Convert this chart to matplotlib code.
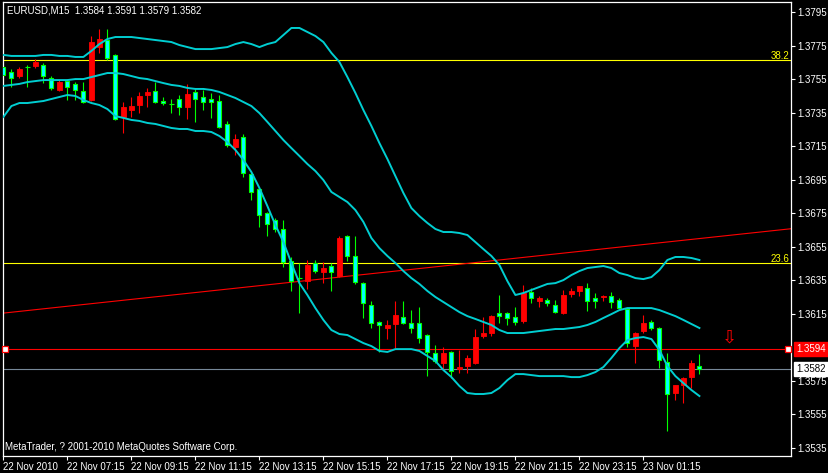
import matplotlib
matplotlib.use("Agg")
import matplotlib.pyplot as plt
import numpy as np
import pandas as pd

plt.rcParams['font.family'] = ['Liberation Sans', 'DejaVu Sans']
plt.rcParams['font.size'] = 7

symbol = "EURUSD,M15"
first_bar = "2010-11-22 05:15"

# OHLC of the 15 minute bars
opens = [1.37624, 1.37594, 1.37568, 1.37620, 1.37630, 1.37634, 1.37558, 1.37485, 1.37538, 1.37521,
         1.37479, 1.37425, 1.37743, 1.37783, 1.37694, 1.37322, 1.37365, 1.37395, 1.37455, 1.37481,
         1.37421, 1.37401, 1.37431, 1.37381, 1.37471, 1.37441, 1.37431, 1.37417, 1.37280, 1.37144,
         1.37204, 1.36983, 1.36894, 1.36750, 1.36709, 1.36655, 1.36466, 1.36362, 1.36344, 1.36452,
         1.36398, 1.36434, 1.36376, 1.36613, 1.36494, 1.36332, 1.36201, 1.36100, 1.36064, 1.36088,
         1.36129, 1.36094, 1.36094, 1.36022, 1.35915, 1.35855, 1.35921, 1.35819, 1.35837, 1.35855,
         1.36016, 1.36034, 1.36153, 1.36153, 1.36129, 1.36106, 1.36279, 1.36225, 1.36231, 1.36201,
         1.36153, 1.36267, 1.36285, 1.36303, 1.36243, 1.36249, 1.36255, 1.36231, 1.36180, 1.35956,
         1.36046, 1.36100, 1.36067, 1.35861, 1.35676, 1.35724, 1.35771, 1.35840]
highs = [1.37634, 1.37610, 1.37622, 1.37634, 1.37670, 1.37646, 1.37568, 1.37544, 1.37550, 1.37532,
         1.37532, 1.37807, 1.37849, 1.37849, 1.37700, 1.37415, 1.37445, 1.37475, 1.37497, 1.37534,
         1.37445, 1.37431, 1.37455, 1.37521, 1.37489, 1.37485, 1.37465, 1.37455, 1.37300, 1.37222,
         1.37222, 1.36995, 1.36906, 1.36756, 1.36721, 1.36709, 1.36490, 1.36452, 1.36470, 1.36470,
         1.36458, 1.36452, 1.36613, 1.36619, 1.36613, 1.36338, 1.36225, 1.36106, 1.36112, 1.36225,
         1.36225, 1.36171, 1.36189, 1.36028, 1.35962, 1.35950, 1.35927, 1.35933, 1.35903, 1.36058,
         1.36129, 1.36141, 1.36261, 1.36159, 1.36189, 1.36321, 1.36303, 1.36255, 1.36243, 1.36231,
         1.36291, 1.36303, 1.36315, 1.36332, 1.36273, 1.36261, 1.36279, 1.36243, 1.36183, 1.36040,
         1.36141, 1.36112, 1.36070, 1.35915, 1.35724, 1.35771, 1.35873, 1.35910]
lows = [1.37544, 1.37503, 1.37556, 1.37504, 1.37616, 1.37526, 1.37485, 1.37479, 1.37425, 1.37425,
        1.37407, 1.37419, 1.37706, 1.37664, 1.37306, 1.37228, 1.37325, 1.37347, 1.37385, 1.37407,
        1.37395, 1.37347, 1.37335, 1.37312, 1.37295, 1.37365, 1.37316, 1.37258, 1.37144, 1.37097,
        1.36965, 1.36828, 1.36667, 1.36613, 1.36637, 1.36428, 1.36285, 1.36153, 1.36297, 1.36392,
        1.36332, 1.36285, 1.36368, 1.36466, 1.36327, 1.36124, 1.36064, 1.35921, 1.35998, 1.35944,
        1.36088, 1.36034, 1.35974, 1.35777, 1.35855, 1.35813, 1.35765, 1.35795, 1.35795, 1.35849,
        1.36004, 1.36016, 1.36094, 1.36082, 1.36082, 1.36094, 1.36213, 1.36189, 1.36195, 1.36153,
        1.36147, 1.36249, 1.36255, 1.36165, 1.36183, 1.36225, 1.36183, 1.36177, 1.35950, 1.35855,
        1.36034, 1.36052, 1.35825, 1.35449, 1.35634, 1.35616, 1.35706, 1.35790]
closes = [1.37574, 1.37558, 1.37610, 1.37620, 1.37654, 1.37568, 1.37498, 1.37532, 1.37504, 1.37485,
          1.37415, 1.37773, 1.37787, 1.37674, 1.37310, 1.37385, 1.37389, 1.37449, 1.37475, 1.37411,
          1.37405, 1.37401, 1.37385, 1.37461, 1.37429, 1.37413, 1.37411, 1.37266, 1.37156, 1.37192,
          1.36989, 1.36876, 1.36738, 1.36685, 1.36655, 1.36458, 1.36344, 1.36362, 1.36440, 1.36404,
          1.36422, 1.36398, 1.36603, 1.36495, 1.36340, 1.36213, 1.36094, 1.36082, 1.36082, 1.36141,
          1.36094, 1.36064, 1.36004, 1.35921, 1.35867, 1.35915, 1.35807, 1.35831, 1.35885, 1.36010,
          1.36034, 1.36138, 1.36135, 1.36124, 1.36100, 1.36273, 1.36243, 1.36243, 1.36213, 1.36159,
          1.36261, 1.36285, 1.36312, 1.36225, 1.36225, 1.36258, 1.36219, 1.36183, 1.35974, 1.36037,
          1.36094, 1.36064, 1.35873, 1.35670, 1.35721, 1.35768, 1.35855, 1.35820]

# Bollinger bands
bb_upper = [1.37694, 1.37688, 1.37688, 1.37688, 1.37688, 1.37694, 1.37694, 1.37688, 1.37688, 1.37682,
            1.37682, 1.37718, 1.37759, 1.37789, 1.37801, 1.37801, 1.37801, 1.37795, 1.37789, 1.37783,
            1.37777, 1.37771, 1.37753, 1.37741, 1.37729, 1.37729, 1.37729, 1.37735, 1.37741, 1.37759,
            1.37771, 1.37759, 1.37741, 1.37759, 1.37771, 1.37813, 1.37855, 1.37855, 1.37831, 1.37807,
            1.37771, 1.37706, 1.37652, 1.37562, 1.37467, 1.37365, 1.37270, 1.37168, 1.37073, 1.36971,
            1.36870, 1.36780, 1.36732, 1.36691, 1.36655, 1.36637, 1.36637, 1.36631, 1.36619, 1.36577,
            1.36535, 1.36494, 1.36440, 1.36344, 1.36261, 1.36273, 1.36291, 1.36309, 1.36327, 1.36332,
            1.36350, 1.36380, 1.36404, 1.36422, 1.36428, 1.36434, 1.36422, 1.36392, 1.36380, 1.36362,
            1.36356, 1.36368, 1.36410, 1.36470, 1.36488, 1.36488, 1.36482, 1.36470]
bb_middle = [1.37509, 1.37515, 1.37521, 1.37532, 1.37538, 1.37544, 1.37544, 1.37544, 1.37544, 1.37550,
             1.37550, 1.37562, 1.37574, 1.37586, 1.37586, 1.37580, 1.37568, 1.37556, 1.37550, 1.37538,
             1.37526, 1.37515, 1.37509, 1.37497, 1.37491, 1.37491, 1.37485, 1.37473, 1.37455, 1.37437,
             1.37413, 1.37389, 1.37347, 1.37294, 1.37240, 1.37186, 1.37138, 1.37091, 1.37043, 1.37001,
             1.36947, 1.36876, 1.36846, 1.36816, 1.36768, 1.36697, 1.36601, 1.36541, 1.36494, 1.36452,
             1.36404, 1.36362, 1.36327, 1.36285, 1.36249, 1.36219, 1.36189, 1.36159, 1.36135, 1.36118,
             1.36100, 1.36082, 1.36052, 1.36034, 1.36034, 1.36034, 1.36040, 1.36046, 1.36052, 1.36058,
             1.36058, 1.36064, 1.36070, 1.36082, 1.36100, 1.36124, 1.36147, 1.36171, 1.36183, 1.36183,
             1.36183, 1.36183, 1.36171, 1.36153, 1.36135, 1.36112, 1.36088, 1.36064]
bb_lower = [1.37324, 1.37389, 1.37407, 1.37407, 1.37413, 1.37419, 1.37431, 1.37443, 1.37455, 1.37449,
            1.37425, 1.37407, 1.37395, 1.37371, 1.37329, 1.37318, 1.37306, 1.37300, 1.37288, 1.37282,
            1.37270, 1.37258, 1.37252, 1.37252, 1.37240, 1.37240, 1.37234, 1.37210, 1.37174, 1.37127,
            1.37067, 1.36995, 1.36900, 1.36792, 1.36679, 1.36577, 1.36452, 1.36332, 1.36261, 1.36183,
            1.36112, 1.36052, 1.36028, 1.36022, 1.35998, 1.35974, 1.35956, 1.35927, 1.35921, 1.35938,
            1.35938, 1.35938, 1.35927, 1.35897, 1.35867, 1.35813, 1.35771, 1.35718, 1.35676, 1.35670,
            1.35670, 1.35676, 1.35706, 1.35753, 1.35789, 1.35789, 1.35783, 1.35777, 1.35777, 1.35777,
            1.35777, 1.35771, 1.35771, 1.35783, 1.35801, 1.35831, 1.35885, 1.35944, 1.35992, 1.36004,
            1.36010, 1.35998, 1.35933, 1.35837, 1.35777, 1.35735, 1.35694, 1.35658]

# objects drawn on the chart
fib_names = ["38.2", "23.6"]
fib_prices = [1.37662, 1.36450]
alert_price = 1.3594
trend_bars = [0, 87]
trend_prices = [1.36153, 1.36598]
arrow_bar = 90.8
arrow_price = 1.3601
copyright_text = "MetaTrader, ? 2001-2010 MetaQuotes Software Corp."

o = np.array(opens)
h = np.array(highs)
l = np.array(lows)
c = np.array(closes)
n = len(o)
x = np.arange(n)

fig = plt.figure(figsize=(8.29, 4.73), dpi=100, facecolor='black')
ax = fig.add_axes([3 / 829, 17 / 473, 788 / 829, 454 / 473])
ax.set_facecolor('black')
ax.set_xlim(-0.05, 98.45)
ax.set_ylim(1.35300, 1.38010)

# fibo levels
for name, price in zip(fib_names, fib_prices):
    ax.axhline(price, color='#ffff00', lw=0.8, zorder=1)
    ax.text(0.998, price + 0.0001, name, color='#ffff00', fontsize=7,
            transform=ax.get_yaxis_transform(), ha='right', va='baseline')

# trend line (ray over the whole window)
slope = (trend_prices[1] - trend_prices[0]) / (trend_bars[1] - trend_bars[0])
x0, x1 = ax.get_xlim()
ax.plot([x0, x1], [trend_prices[0] + slope * (x0 - trend_bars[0]),
                   trend_prices[0] + slope * (x1 - trend_bars[0])], color='red', lw=0.8, zorder=1)

# alert line and bid line
ax.axhline(alert_price, color='red', lw=0.8, zorder=1)
ax.plot([0.2, 98.1], [alert_price, alert_price], 's', ms=4, mfc='white', mec='red', mew=0.9,
        zorder=5, clip_on=False)
ax.axhline(c[-1], color='#778899', lw=0.8, zorder=1)

# candles
down = c < o
up = c > o
flat = c == o
ax.vlines(x[down | flat], l[down | flat], h[down | flat], color='#00ff00', lw=0.8, zorder=2)
ax.vlines(x[up], l[up], h[up], color='red', lw=0.8, zorder=2)
ax.bar(x[down], (o - c)[down], bottom=c[down], width=0.48, color='#00ffff', edgecolor='#00ff00',
       linewidth=0.8, zorder=3)
ax.bar(x[up], (c - o)[up], bottom=o[up], width=0.58, color='red', edgecolor='red',
       linewidth=0.6, zorder=3)
ax.hlines(o[flat], x[flat] - 0.3, x[flat] + 0.3, color='#00ff00', lw=0.8, zorder=3)

# bollinger bands
for band in (bb_upper, bb_middle, bb_lower):
    ax.plot(x, band, color='#00ced1', lw=1.4, zorder=4)

ax.text(arrow_bar, arrow_price, '\u21e9', color='red', fontsize=13, ha='center', va='center',
        family=['DejaVu Sans'])

# axes styling
for sp in ax.spines.values():
    sp.set_color('white')
    sp.set_linewidth(0.9)

yt = [t for t in np.round(np.arange(1.3535, 1.3796, 0.002), 4) if abs(t - 1.3595) > 1e-6]
ax.yaxis.tick_right()
ax.set_yticks(yt)
ax.set_yticklabels([f"{t:.4f}" for t in yt])
ax.tick_params(axis='y', colors='white', length=3, width=0.8, pad=1.5, labelsize=7)

times = pd.date_range(first_bar, periods=n, freq='15min')
xt = list(range(0, n, 8))
xl = [times[0].strftime('%d %b %Y')] + [times[i].strftime('%d %b %H:%M') for i in xt[1:]]
ax.set_xticks(xt)
ax.set_xticklabels(xl)
ax.tick_params(axis='x', colors='white', length=3, width=0.8, pad=1, labelsize=7)
for lab in ax.get_xticklabels():
    lab.set_ha('left')

# price boxes on the right scale
ax.text(1.0065, alert_price, f"{alert_price:.4f}", transform=ax.get_yaxis_transform(),
        color='white', fontsize=7, ha='left', va='center', clip_on=False,
        bbox=dict(boxstyle='square,pad=0.2', fc='red', ec='red'))
ax.text(1.0065, c[-1], f"{c[-1]:.4f}", transform=ax.get_yaxis_transform(),
        color='black', fontsize=7, ha='left', va='center', clip_on=False,
        bbox=dict(boxstyle='square,pad=0.2', fc='white', ec='white'))

header = f"{symbol}  {o[-1]:.4f} {h[-1]:.4f} {l[-1]:.4f} {c[-1]:.4f}"
fig.text(7 / 829, 1 - 10.5 / 473, header, color='white', fontsize=7, va='center', ha='left')
fig.text(5 / 829, 1 - 447.5 / 473, copyright_text, color='white', fontsize=7, va='center', ha='left')

fig.savefig('out.png', dpi=100, facecolor='black')
